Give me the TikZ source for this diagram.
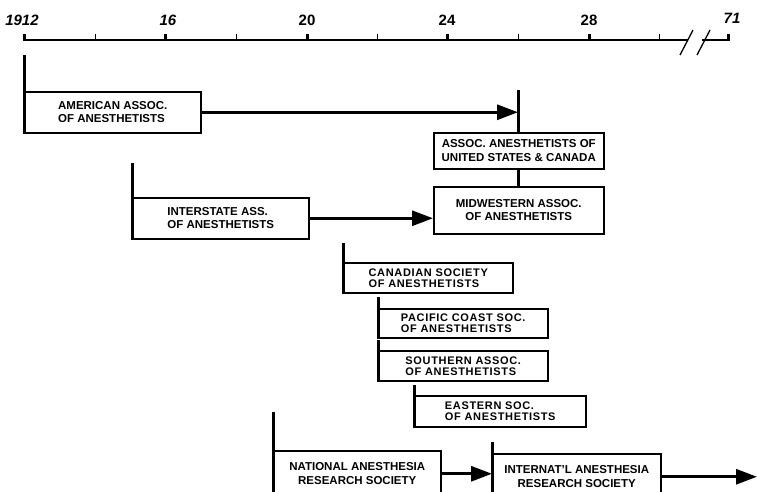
\documentclass[tikz,border=0pt]{standalone}
\usepackage{fontspec}
\setsansfont{Liberation Sans}
\usetikzlibrary{arrows.meta, positioning}

\begin{document}
\begin{tikzpicture}[x=1pt, y=-1pt,
    orgbox/.style={rectangle, draw, line width=1.5pt, anchor=north west, align=left,
                   inner sep=0pt, font=\sffamily\bfseries\fontsize{11.5}{13.5}\selectfont},
    tight/.style={font=\sffamily\bfseries\fontsize{11}{11}\selectfont\addfontfeatures{LetterSpace=6}},
    startbar/.style={line width=3pt},
    arr/.style={-{Triangle[length=21pt, width=15pt]}, line width=3pt},
    year/.style={inner sep=0pt, font=\sffamily\bfseries\fontsize{15}{15}\selectfont}]

    \useasboundingbox (0,0) rectangle (757,491);
    \clip (0,0) rectangle (757,491);

    % Time axis
    \draw[line width=2.5pt] (24,40) -- (688,40);
    \draw[line width=2.5pt] (702,40) -- (728,40);
    \foreach \x in {24,165,307,447,589,728}
        \draw[line width=3pt] (\x,41) -- (\x,34);
    \foreach \x in {95,236,377,518,659}
        \draw[line width=1pt] (\x,40) -- (\x,34);
    \draw[line width=1.3pt] (680,55) -- (693,30);
    \draw[line width=1.3pt] (697,55) -- (710,30);

    % Years
    \node[year, font=\sffamily\bfseries\itshape\fontsize{15}{15}\selectfont] (y1912) at (22,20) {1912};
    \node[year, font=\sffamily\bfseries\itshape\fontsize{15}{15}\selectfont] (y16) at (168,20) {16};
    \node[year] (y20) at (307,20) {20};
    \node[year] (y24) at (447,20) {24};
    \node[year] (y28) at (589,20) {28};
    \node[year, font=\sffamily\bfseries\itshape\fontsize{15}{15}\selectfont] (y71) at (732,18) {71};

    % Societies
    \node[orgbox, minimum width=176, minimum height=41] (american) at (24,91) {AMERICAN ASSOC.\\OF ANESTHETISTS};
    \node[orgbox, minimum width=170, minimum height=36, align=center] (usca) at (433,132) {ASSOC. ANESTHETISTS OF\\UNITED STATES \& CANADA};
    \node[orgbox, minimum width=170, minimum height=47, align=center] (midwest) at (433,186) {MIDWESTERN ASSOC.\\OF ANESTHETISTS};
    \node[orgbox, minimum width=176, minimum height=41] (interstate) at (132,197) {INTERSTATE ASS.\\OF ANESTHETISTS};
    \node[orgbox, tight, minimum width=169, minimum height=30] (canadian) at (343,262) {CANADIAN SOCIETY\\OF ANESTHETISTS};
    \node[orgbox, tight, minimum width=169, minimum height=29] (pacific) at (378,308) {PACIFIC COAST SOC.\\OF ANESTHETISTS};
    \node[orgbox, tight, minimum width=169, minimum height=30] (southern) at (378,350) {SOUTHERN ASSOC.\\OF ANESTHETISTS};
    \node[orgbox, tight, minimum width=171, minimum height=31] (eastern) at (414,395) {EASTERN SOC.\\OF ANESTHETISTS};
    \node[orgbox, minimum width=167, minimum height=46, align=center] (national) at (273,450) {NATIONAL ANESTHESIA\\RESEARCH SOCIETY};
    \node[orgbox, minimum width=168, minimum height=46, align=center] (internat) at (492,453) {INTERNAT'L ANESTHESIA\\RESEARCH SOCIETY};

    % Founding bars
    \foreach \org/\top in {american/55, interstate/163, canadian/243, pacific/297,
                           southern/340, eastern/385, national/412, internat/442}
        \draw[startbar] (\org.south west) -- (\org.south west |- 0,\top);

    % Mergers and continuations
    \coordinate (uscatop) at (518,90);
    \coordinate (future) at (757,0);
    \draw[startbar] (uscatop) -- (usca.north -| uscatop);
    \draw[startbar] (usca.south) -- (midwest.north);
    \draw[arr] (american.east) -- (american.east -| uscatop);
    \draw[arr] (interstate.east) -- (interstate.east -| midwest.west);
    \draw[arr] (national.east) -- (national.east -| internat.west);
    \draw[arr] (internat.east) -- (internat.east -| future);
\end{tikzpicture}
\end{document}
